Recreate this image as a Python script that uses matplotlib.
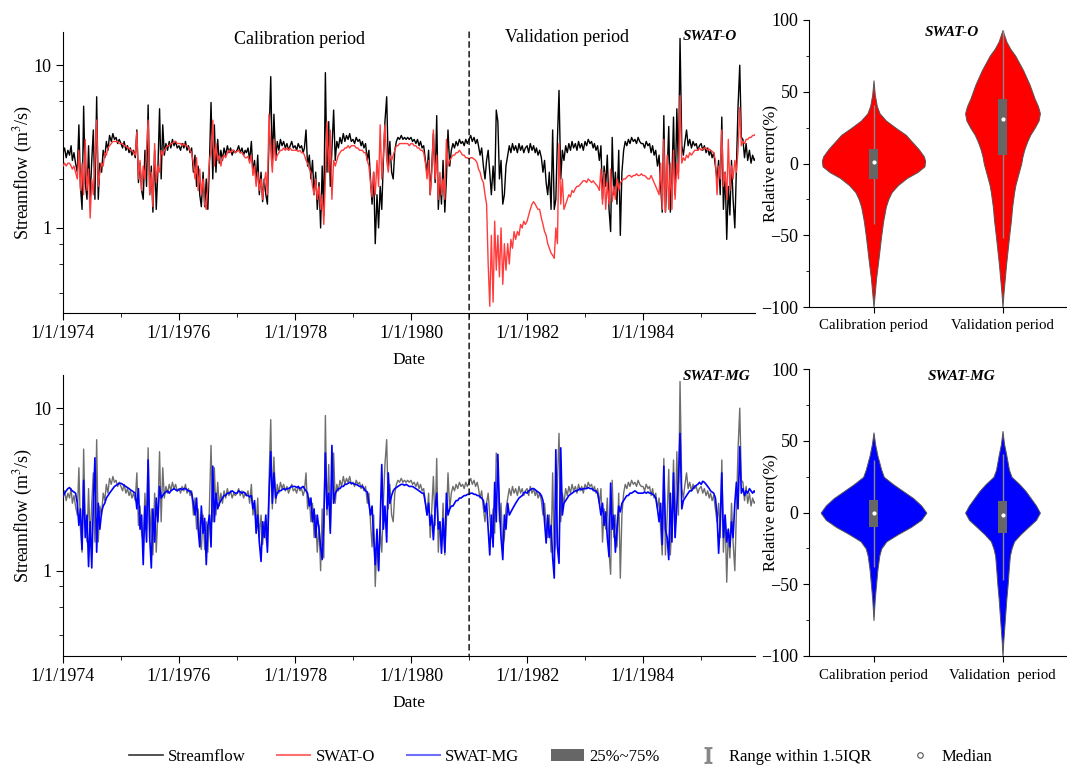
import numpy as np
import pandas as pd
import matplotlib
matplotlib.use("Agg")
import matplotlib.pyplot as plt
import matplotlib.dates as mdates
from matplotlib.ticker import LogLocator, NullFormatter, FixedLocator, FuncFormatter, MultipleLocator
from matplotlib.lines import Line2D
from matplotlib.patches import Patch, ConnectionPatch

plt.rcParams["font.family"] = ["Liberation Serif", "DejaVu Serif"]
plt.rcParams["mathtext.fontset"] = "stix"

# ---------------------------------------------------------------- data
# values every 10 days (1st, 11th, 21st of each month), one row per year
YEARS = list(range(1974, 1986))

OBS = [
    # 1974
    2.9, 3.1, 2.7, 3.0, 2.8, 3.2, 2.6, 2.9, 2.5,
    2.2, 4.3, 1.8, 1.3, 5.6, 1.9, 1.5, 3.2, 1.5, 2.6, 4.0, 1.5, 6.4, 1.5, 2.5,
    2.2, 3.0, 2.7, 3.4, 3.0, 3.7, 3.4, 3.8, 3.5, 3.6, 3.3, 3.5,
    # 1975
    3.3, 3.1, 3.4, 3.0, 3.2, 2.9, 3.1, 2.8, 3.0, 2.7,
    4.0, 1.9, 2.5, 1.7, 1.5, 3.0, 1.8, 5.7, 1.6, 2.4, 1.25, 3.0, 1.3, 2.2, 5.4, 2.0, 4.3,
    2.8, 3.3, 3.0, 3.4, 3.1, 3.5, 3.2, 3.4, 3.1,
    # 1976
    3.2, 3.0, 3.3, 3.1, 3.4, 3.0, 3.2, 2.9, 3.1,
    2.2, 2.8, 1.8, 2.4, 1.6, 1.35, 2.2, 1.35, 2.0, 1.3, 2.5, 5.9, 2.0, 4.3, 2.2, 3.5, 2.5,
    3.0, 2.6, 3.1, 2.8, 3.2, 2.9, 3.1, 2.8, 3.0, 2.9,
    # 1977
    3.0, 3.2, 2.9, 3.1, 2.8, 3.0, 2.9, 3.1,
    2.6, 3.4, 2.2, 2.6, 1.9, 2.8, 1.6, 2.2, 1.45, 2.0, 1.6, 1.4, 3.5, 8.5, 2.4, 5.0, 2.6,
    3.4, 3.0, 3.5, 3.2, 3.4, 3.1, 3.3, 3.0, 3.2, 3.4, 3.1,
    # 1978
    3.2, 3.0, 3.3, 3.1, 3.2, 2.9, 3.1,
    4.0, 2.4, 2.8, 2.0, 2.6, 1.6, 2.2, 1.3, 1.9, 1.0, 2.4, 1.2, 9.0, 2.2, 4.5, 1.8, 3.0, 5.3, 2.6,
    3.4, 3.1, 3.6, 3.3, 3.8, 3.4, 3.7, 3.5, 3.8, 3.4,
    # 1979
    3.5, 3.3, 3.6, 3.4, 3.5, 3.2, 3.4, 3.1, 3.3,
    2.6, 3.0, 2.0, 1.4, 2.2, 0.8, 1.6, 1.0, 1.8, 1.3, 2.6, 4.5, 6.4, 2.4, 3.4, 2.2, 2.0,
    3.0, 3.4, 3.6, 3.5, 3.7, 3.5, 3.6, 3.5, 3.6, 3.5,
    # 1980
    3.6, 3.4, 3.5, 3.3, 3.5, 3.2, 3.4, 3.1, 3.2,
    2.6, 2.2, 3.0, 1.6, 2.4, 3.8, 1.9, 4.9, 1.3, 2.0, 1.4, 2.6, 1.25, 2.0, 4.0, 2.4,
    3.0, 3.3, 3.1, 3.4, 3.2, 3.5, 3.3, 3.4, 3.2, 3.5, 3.3,
    # 1981
    3.5, 3.7, 3.4, 3.6, 3.3, 3.5, 3.2,
    2.8, 3.1, 2.4, 2.0, 2.6, 3.0, 2.2, 1.6, 2.4, 1.7, 5.3, 4.5, 2.0, 2.6, 1.4, 1.6, 2.4,
    2.8, 3.2, 2.9, 3.3, 3.0, 3.2, 2.9, 3.3, 3.0, 3.2, 2.9, 3.1,
    # 1982
    3.2, 2.9, 3.3, 3.0, 3.2, 2.9, 3.1, 2.8, 3.0, 2.7,
    2.2, 2.6, 1.9, 1.6, 2.2, 1.3, 4.0, 1.3, 1.5, 3.5, 7.0, 2.0, 3.0,
    2.6, 3.2, 2.9, 3.3, 3.0, 3.4, 3.1, 3.3, 3.0, 3.4, 3.1, 3.3, 3.0,
    # 1983
    3.4, 3.2, 3.5, 3.3, 3.4, 3.1, 3.3, 3.0, 3.2,
    2.6, 3.2, 1.5, 2.4, 1.8, 2.8, 1.3, 0.95, 3.6, 1.6, 2.2, 1.4, 3.0, 0.9, 2.2,
    3.0, 3.4, 3.2, 3.5, 3.3, 3.6, 3.4, 3.5, 3.3, 3.6, 3.4, 3.3,
    # 1984
    3.3, 3.1, 3.4, 3.2, 3.3, 2.9, 3.2, 2.8, 3.0,
    2.4, 2.8, 1.8, 1.25, 4.9, 1.25, 2.2, 4.2, 1.25, 2.0, 4.8, 1.6, 5.4, 2.2, 14.6, 3.2,
    2.8, 3.4, 4.0, 3.2, 3.5, 3.1, 3.4, 3.2, 3.3, 3.0, 3.2,
    # 1985
    3.3, 3.0, 3.2, 2.9, 3.1, 2.8, 3.0, 2.7, 2.9,
    2.4, 2.0, 2.6, 1.6, 4.8, 1.3, 2.2, 0.85, 1.8, 1.2, 2.6, 1.5, 1.0, 2.4, 5.5, 10.0, 3.6,
    3.5, 2.7, 3.3, 2.6, 3.0, 2.5, 2.8, 2.6, 2.7, 2.6,
]

SWAT_O = [
    # 1974
    2.4, 2.5, 2.4, 2.5, 2.5, 2.4, 2.3, 2.4, 2.2,
    2.0, 3.0, 1.7, 2.5, 1.6, 3.5, 1.7, 2.3, 1.15, 2.0, 1.6, 2.6, 4.6, 1.8, 2.2,
    2.5, 2.4, 2.9, 2.8, 3.1, 3.2, 3.3, 3.4, 3.4, 3.4, 3.4, 3.3,
    # 1975
    3.3, 3.3, 3.2, 3.2, 3.1, 3.1, 3.0, 3.0, 2.9, 2.8,
    3.9, 2.0, 2.6, 1.7, 2.4, 2.0, 3.0, 4.6, 1.6, 2.2, 1.35, 3.3, 1.9, 2.4, 2.2, 3.0, 2.8,
    3.0, 3.1, 3.2, 3.2, 3.3, 3.3, 3.4, 3.4, 3.3,
    # 1976
    3.3, 3.3, 3.2, 3.3, 3.2, 3.2, 3.1, 3.0, 2.9,
    2.5, 2.0, 2.7, 1.7, 2.3, 1.6, 2.0, 1.4, 1.3, 1.8, 2.6, 3.0, 4.6, 2.4, 3.3, 2.6, 2.8,
    2.4, 2.7, 2.8, 2.7, 2.9, 3.0, 2.9, 3.0, 3.0, 2.9,
    # 1977
    2.95, 3.0, 2.9, 2.9, 2.8, 2.7, 2.7, 2.75,
    2.5, 2.8, 2.1, 2.4, 1.8, 2.2, 1.7, 2.0, 1.5, 1.9, 2.2, 1.6, 5.0, 3.0, 2.2, 3.5, 2.6,
    2.8, 2.9, 3.0, 3.0, 3.1, 3.0, 3.1, 3.0, 3.1, 3.0, 3.0,
    # 1978
    3.0, 3.0, 2.95, 3.0, 2.9, 2.9, 2.8,
    2.6, 2.5, 2.3, 2.2, 1.8, 1.6, 2.0, 1.5, 1.8, 1.3, 1.6, 1.05, 2.0, 4.5, 2.2, 4.0, 1.5, 2.6, 2.4,
    2.6, 2.8, 2.9, 3.0, 3.0, 3.1, 3.1, 3.2, 3.1, 3.2,
    # 1979
    3.2, 3.2, 3.1, 3.1, 3.0, 3.0, 3.0, 2.9, 2.9,
    2.6, 2.4, 1.9, 1.55, 2.2, 1.6, 2.6, 1.8, 4.3, 2.0, 2.8, 4.3, 2.6, 2.2, 2.8, 2.6, 2.8,
    3.0, 3.2, 3.2, 3.3, 3.3, 3.3, 3.3, 3.3, 3.3, 3.2,
    # 1980
    3.3, 3.3, 3.2, 3.2, 3.1, 3.1, 3.0, 3.0, 2.9,
    2.5, 2.0, 2.6, 1.6, 2.2, 4.0, 2.0, 2.8, 1.5, 2.2, 1.6, 2.0, 1.5, 3.5, 2.4, 2.6,
    2.7, 2.8, 2.8, 2.9, 2.9, 3.0, 2.9, 2.8, 2.8, 2.7, 2.7,
    # 1981
    2.65, 2.7, 2.7, 2.65, 2.6, 2.5,
    2.3, 2.2, 2.0, 1.9, 1.6, 1.4, 0.6, 0.33, 0.9, 0.35, 1.1, 0.55, 0.9, 0.5, 1.0, 0.45, 0.8, 0.55,
    0.8, 0.6, 0.85, 0.75, 0.95, 0.85, 0.95, 0.9, 1.05, 1.0, 1.1, 1.05,
    # 1982
    1.1, 1.2, 1.3, 1.4, 1.45, 1.4, 1.35, 1.3, 1.3, 1.15, 1.05, 0.95, 0.9, 0.8, 0.75, 0.7, 0.68, 0.65,
    1.0, 0.8, 3.3, 1.4, 2.0, 1.3, 1.4, 1.5, 1.6, 1.55, 1.7, 1.65, 1.75, 1.8, 1.8, 1.85, 1.9, 1.95,
    # 1983
    1.95, 1.9, 2.0, 1.95, 1.9, 1.95, 1.9, 1.85, 1.8, 1.7,
    2.3, 1.4, 2.2, 1.3, 1.9, 1.4, 2.3, 1.45, 1.8, 1.5, 2.0, 1.7, 1.9,
    1.95, 2.0, 2.0, 2.05, 2.1, 2.1, 2.05, 2.1, 2.1, 2.15, 2.1, 2.1, 2.15,
    # 1984
    2.1, 2.1, 2.05, 2.0, 2.0, 2.1, 2.0, 1.9, 1.8, 1.7,
    1.6, 2.5, 1.3, 3.5, 1.25, 2.8, 1.3, 2.5, 1.3, 3.0, 1.5, 2.5, 2.0, 6.5, 2.5,
    2.7, 2.6, 2.8, 2.7, 2.9, 2.8, 2.9, 3.0, 3.0, 3.0, 3.1,
    # 1985
    3.0, 3.05, 3.1, 3.1, 3.0, 3.05, 3.0, 2.95, 2.9, 2.6,
    1.6, 2.4, 2.0, 4.0, 1.8, 2.2, 1.5, 3.5, 1.7, 2.4, 2.0, 2.6, 2.2, 3.0, 5.5, 3.2,
    3.4, 3.3, 3.5, 3.5, 3.6, 3.6, 3.7, 3.7, 3.8, 3.8,
]

SWAT_MG = [
    # 1974
    2.85, 3.0, 3.1, 3.2, 3.25, 3.15, 3.1, 3.05, 3.0,
    2.6, 1.9, 2.4, 1.35, 3.6, 1.6, 2.2, 1.06, 2.0, 1.04, 2.6, 4.95, 1.3, 2.6, 1.8,
    2.3, 2.5, 2.6, 2.8, 2.9, 3.0, 3.1, 3.2, 3.3, 3.35, 3.4, 3.45,
    # 1975
    3.45, 3.4, 3.35, 3.3, 3.25, 3.2, 3.15, 3.1, 3.05, 3.0,
    2.4, 3.2, 1.8, 2.2, 1.09, 2.5, 1.5, 4.8, 1.6, 1.04, 2.4, 1.5, 2.8, 2.0, 3.3,
    2.8, 2.9, 3.0, 3.05, 3.1, 3.0, 3.1, 3.15, 3.2, 3.15, 3.1,
    # 1976
    3.15, 3.2, 3.15, 3.2, 3.2, 3.15, 3.1, 3.1, 3.0,
    2.6, 2.2, 2.8, 1.8, 1.4, 2.5, 1.7, 2.1, 1.09, 1.9, 2.2, 1.4, 4.4, 2.0, 3.0,
    2.4, 2.6, 2.7, 2.8, 2.9, 2.9, 3.0, 3.0, 3.05, 3.1, 3.05, 3.0,
    # 1977
    3.0, 3.1, 3.05, 3.0, 3.05, 3.0, 2.9, 2.9, 2.85, 2.9,
    2.4, 2.7, 1.7, 2.2, 1.5, 1.14, 2.0, 1.6, 2.2, 1.3, 2.8, 5.4, 2.6, 4.0,
    2.8, 3.0, 3.1, 3.1, 3.15, 3.2, 3.15, 3.2, 3.2, 3.25, 3.3, 3.3,
    # 1978
    3.3, 3.25, 3.3, 3.2, 3.25, 3.3, 3.2, 3.1, 3.0,
    2.5, 2.8, 2.0, 2.4, 1.6, 2.2, 1.8, 1.4, 1.17, 2.0, 5.3, 2.4, 3.0, 1.7, 5.9, 2.6,
    3.0, 3.1, 3.2, 3.2, 3.3, 3.3, 3.4, 3.4, 3.45, 3.5, 3.45,
    # 1979
    3.45, 3.4, 3.4, 3.35, 3.3, 3.3, 3.3, 3.2, 3.1, 3.05,
    2.6, 2.2, 2.5, 1.6, 1.09, 1.8, 1.0, 2.0, 4.5, 1.8, 2.5, 1.5, 4.0, 2.6,
    2.9, 3.1, 3.2, 3.25, 3.3, 3.35, 3.4, 3.4, 3.35, 3.4, 3.35, 3.3,
    # 1980
    3.3, 3.3, 3.25, 3.2, 3.15, 3.1, 3.05, 3.0, 3.0,
    2.6, 2.2, 2.6, 1.9, 2.2, 1.55, 2.4, 3.0, 1.8, 2.0, 1.28, 2.1, 1.3, 3.0, 2.2,
    2.4, 2.5, 2.5, 2.6, 2.7, 2.7, 2.8, 2.8, 2.85, 2.9, 2.9, 2.95,
    # 1981
    2.95, 3.0, 3.0, 2.95, 2.95, 2.9, 2.9, 2.85, 2.8, 2.7,
    2.3, 2.6, 1.8, 1.25, 2.2, 1.4, 3.5, 2.0, 5.2, 2.4, 1.6, 1.17, 2.2, 1.8, 2.6, 2.2,
    2.3, 2.4, 2.5, 2.6, 2.7, 2.8, 2.85, 2.9, 3.0, 3.05,
    # 1982
    3.0, 3.1, 3.15, 3.2, 3.2, 3.15, 3.1, 3.05, 3.0, 2.9, 2.7,
    2.0, 1.48, 2.2, 1.6, 1.9, 1.2, 0.9, 5.55, 1.4, 1.11, 5.7, 2.2,
    2.6, 2.7, 2.8, 2.9, 2.95, 3.0, 3.05, 3.1, 3.1, 3.15, 3.2, 3.15, 3.2,
    # 1983
    3.2, 3.2, 3.25, 3.2, 3.2, 3.15, 3.1, 3.1, 3.0,
    2.6, 2.2, 2.6, 1.9, 2.3, 1.6, 1.22, 3.46, 1.8, 2.2, 1.3, 1.8, 2.5, 2.3,
    2.6, 2.7, 2.8, 2.9, 2.9, 3.0, 3.0, 3.05, 3.1, 3.05, 3.0, 3.0, 3.0,
    # 1984
    3.0, 3.05, 3.0, 3.05, 3.0, 3.0, 2.95, 2.9, 2.8,
    2.4, 2.0, 2.6, 1.45, 4.4, 1.8, 1.6, 1.17, 3.0, 1.5, 4.0, 1.6, 2.5, 3.6, 7.0, 2.4,
    2.7, 2.8, 2.9, 3.0, 3.1, 3.1, 3.2, 3.3, 3.35, 3.4, 3.5,
    # 1985
    3.4, 3.55, 3.5, 3.4, 3.3, 3.2, 3.1, 3.05, 3.0, 2.8,
    2.2, 1.28, 2.0, 4.0, 1.6, 2.2, 1.5, 1.8, 1.4, 2.0, 1.6, 2.6, 3.5, 2.4, 5.8,
    3.0, 3.2, 2.9, 3.1, 3.0, 3.2, 3.1, 3.0, 3.1, 3.0, 3.05,
]

SPLIT_DATE = "1981-01-01"

# violin outlines: relative error level (%) and half width (x units)
CAL_O_LEVELS = [58, 48, 40, 35, 30, 25, 20, 15, 10, 5, 2, -2, -6, -10, -15, -20, -25, -30, -40, -50, -60, -70, -80, -90, -100]
CAL_O_WIDTHS = [0, 0.01, 0.026, 0.047, 0.096, 0.17, 0.25, 0.30, 0.35, 0.39, 0.40, 0.395, 0.34, 0.26, 0.19, 0.14, 0.114, 0.096, 0.075, 0.06, 0.047, 0.034, 0.02, 0.01, 0]
VAL_O_LEVELS = [93, 85, 80, 75, 70, 65, 60, 55, 50, 45, 40, 35, 30, 25, 20, 15, 10, 5, 0, -5, -10, -15, -20, -30, -40, -50, -60, -70, -80, -90, -100]
VAL_O_WIDTHS = [0, 0.03, 0.06, 0.10, 0.13, 0.16, 0.185, 0.21, 0.23, 0.25, 0.275, 0.29, 0.28, 0.25, 0.215, 0.19, 0.17, 0.155, 0.145, 0.13, 0.115, 0.10, 0.09, 0.075, 0.065, 0.052, 0.04, 0.028, 0.018, 0.008, 0]
CAL_MG_LEVELS = [56, 48, 40, 35, 30, 25, 20, 15, 10, 5, 0, -5, -10, -15, -20, -25, -30, -40, -50, -60, -75]
CAL_MG_WIDTHS = [0, 0.012, 0.03, 0.045, 0.06, 0.08, 0.15, 0.23, 0.31, 0.37, 0.41, 0.37, 0.29, 0.19, 0.10, 0.06, 0.045, 0.03, 0.02, 0.01, 0]
VAL_MG_LEVELS = [57, 48, 40, 35, 30, 25, 20, 15, 10, 5, 0, -5, -10, -15, -20, -25, -30, -40, -50, -60, -70, -80, -90, -100]
VAL_MG_WIDTHS = [0, 0.012, 0.03, 0.04, 0.05, 0.07, 0.13, 0.18, 0.22, 0.26, 0.29, 0.26, 0.20, 0.14, 0.09, 0.07, 0.057, 0.048, 0.04, 0.03, 0.022, 0.014, 0.006, 0]

# box stats: q1, q3, median, lower whisker, upper whisker
CAL_O_BOX = (-11, 10, 1, -42, 41)
VAL_O_BOX = (6, 45, 31, -52, 93)
CAL_MG_BOX = (-10, 9, 0, -38, 37)
VAL_MG_BOX = (-14, 8, -1.5, -47, 41)

PERIODS_O = ["Calibration period", "Validation period"]
PERIODS_MG = ["Calibration period", "Validation  period"]

# ---------------------------------------------------------------- helpers
W, H = 1067, 769


def fig_rect(left, top, right, bottom):
    """Pixel box -> figure fraction rect."""
    return [left / W, 1 - bottom / H, (right - left) / W, (bottom - top) / H]


dates = pd.to_datetime([f"{y}-{m:02d}-{d:02d}" for y in YEARS
                        for m in range(1, 13) for d in (1, 11, 21)])
assert len(OBS) == len(dates) and len(SWAT_O) == len(dates) and len(SWAT_MG) == len(dates)


def date_fmt(x, pos):
    d = mdates.num2date(x)
    return f"{d.month}/{d.day}/{d.year}"


def style_series_axis(ax):
    ax.set_yscale("log")
    ax.set_ylim(0.3, 16)
    ax.set_xlim(pd.Timestamp("1974-01-01"), pd.Timestamp("1985-12-06"))
    ax.yaxis.set_major_locator(FixedLocator([1, 10]))
    ax.yaxis.set_major_formatter(FuncFormatter(lambda v, p: f"{v:g}"))
    ax.yaxis.set_minor_locator(LogLocator(base=10, subs=(2, 4, 6, 8)))
    ax.yaxis.set_minor_formatter(NullFormatter())
    ax.xaxis.set_major_locator(mdates.YearLocator(2))
    ax.xaxis.set_minor_locator(mdates.YearLocator(1))
    ax.xaxis.set_major_formatter(FuncFormatter(date_fmt))
    for s in ("top", "right"):
        ax.spines[s].set_visible(False)
    ax.tick_params(which="major", direction="out", length=5, labelsize=13)
    ax.tick_params(which="minor", direction="out", length=3)
    ax.set_ylabel(r"Streamflow (m$^3$/s)", fontsize=13)
    ax.yaxis.set_label_coords(-0.04, 0.5)
    ax.set_xlabel("Date", fontsize=12.5, va="top")
    ax.xaxis.set_label_coords(0.5, -0.14)


def draw_violin(ax, pos, levels, widths, box, color):
    lv = np.asarray(levels, float)
    wd = np.asarray(widths, float)
    ax.fill_betweenx(lv, pos - wd, pos + wd, facecolor=color,
                     edgecolor="#555555", linewidth=0.7, zorder=2)
    q1, q3, med, lo, hi = box
    ax.vlines(pos, lo, hi, color="#888888", linewidth=1.0, zorder=3)
    ax.bar(pos, q3 - q1, bottom=q1, width=0.07, color="#666666", zorder=4)
    ax.scatter([pos], [med], s=4, color="white", zorder=5)


def style_violin_axis(ax, labels):
    ax.set_xlim(0.5, 2.5)
    ax.set_ylim(-100, 100)
    ax.set_xticks([1, 2])
    ax.set_xticklabels(labels)
    ax.yaxis.set_major_locator(MultipleLocator(50))
    ax.yaxis.set_minor_locator(MultipleLocator(25))
    for s in ("top", "right"):
        ax.spines[s].set_visible(False)
    ax.tick_params(which="major", direction="out", length=4)
    ax.tick_params(axis="y", which="major", labelsize=13)
    ax.tick_params(axis="x", which="major", labelsize=10.7, pad=5)
    ax.tick_params(which="minor", direction="out", length=2.5)
    ax.set_ylabel("Relative error(%)", fontsize=12)
    ax.yaxis.set_label_coords(-0.12, 0.5)


# ---------------------------------------------------------------- figure
fig = plt.figure(figsize=(W / 100, H / 100), dpi=100)
ax1 = fig.add_axes(fig_rect(63, 32, 755, 313))
ax2 = fig.add_axes(fig_rect(63, 375, 755, 655.7))
av1 = fig.add_axes(fig_rect(809, 20, 1067, 307))
av2 = fig.add_axes(fig_rect(809, 369.3, 1067, 656))

ax1.plot(dates, OBS, color="black", linewidth=1.0, zorder=2)
ax1.plot(dates, SWAT_O, color="#FF3B3B", linewidth=1.0, zorder=3)
style_series_axis(ax1)

ax2.plot(dates, OBS, color="#6E6E6E", linewidth=1.0, zorder=2)
ax2.plot(dates, SWAT_MG, color="#0000FF", linewidth=1.2, zorder=3)
style_series_axis(ax2)

# split line through both time-series panels
split = pd.Timestamp(SPLIT_DATE)
con = ConnectionPatch(xyA=(mdates.date2num(split), 16), coordsA=ax1.transData,
                      xyB=(mdates.date2num(split), 0.3), coordsB=ax2.transData,
                      linestyle=(0, (4, 3)), color="black", linewidth=1.0, zorder=10)
fig.add_artist(con)

fig.text(300 / W, 1 - 40 / H, "Calibration period", fontsize=13, ha="center", va="center")
fig.text(567 / W, 1 - 37 / H, "Validation period", fontsize=13, ha="center", va="center")
fig.text(683 / W, 1 - 37 / H, "SWAT-O", fontsize=11, ha="left", va="center",
         fontweight="bold", fontstyle="italic")
fig.text(683 / W, 1 - 377 / H, "SWAT-MG", fontsize=11, ha="left", va="center",
         fontweight="bold", fontstyle="italic")

draw_violin(av1, 1, CAL_O_LEVELS, CAL_O_WIDTHS, CAL_O_BOX, "#FF0000")
draw_violin(av1, 2, VAL_O_LEVELS, VAL_O_WIDTHS, VAL_O_BOX, "#FF0000")
style_violin_axis(av1, PERIODS_O)
draw_violin(av2, 1, CAL_MG_LEVELS, CAL_MG_WIDTHS, CAL_MG_BOX, "#0000FF")
draw_violin(av2, 2, VAL_MG_LEVELS, VAL_MG_WIDTHS, VAL_MG_BOX, "#0000FF")
style_violin_axis(av2, PERIODS_MG)

fig.text(952 / W, 1 - 33 / H, "SWAT-O", fontsize=11, ha="center", va="center",
         fontweight="bold", fontstyle="italic")
fig.text(962 / W, 1 - 376 / H, "SWAT-MG", fontsize=11, ha="center", va="center",
         fontweight="bold", fontstyle="italic")

handles = [
    Line2D([], [], color="#333333", linewidth=1.2),
    Line2D([], [], color="#FF7070", linewidth=1.5),
    Line2D([], [], color="#7070FF", linewidth=1.5),
    Patch(facecolor="#666666", edgecolor="none"),
    Line2D([], [], linestyle="none", marker=r"$\mathrm{I}$", markersize=11,
           color="#888888"),
    Line2D([], [], linestyle="none", marker="o", markersize=4,
           markerfacecolor="white", markeredgecolor="#555555", markeredgewidth=0.8),
]
labels = ["Streamflow", "SWAT-O", "SWAT-MG", "25%~75%", "Range within 1.5IQR", "Median"]
fig.legend(handles, labels, loc="center", bbox_to_anchor=(561 / W, 1 - 757 / H),
           ncol=6, frameon=False, fontsize=12, handlelength=2.0,
           handletextpad=0.3, columnspacing=1.9)

fig.savefig("out.png", dpi=100)
plt.close(fig)
